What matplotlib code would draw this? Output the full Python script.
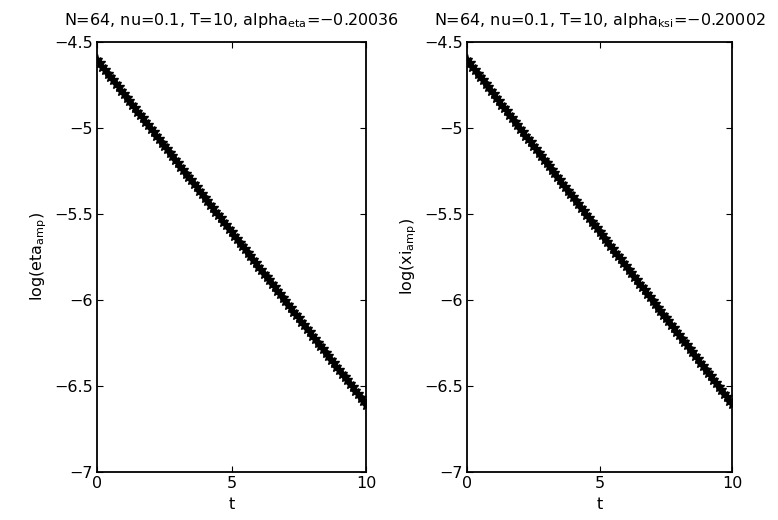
import matplotlib.pyplot as plt
from matplotlib.ticker import FuncFormatter

plt.rcParams['font.family'] = ['DejaVu Sans']
plt.rcParams['mathtext.default'] = 'regular'

# time samples (dt = 0.1)
t = [0.0, 0.1, 0.2, 0.3, 0.4, 0.5, 0.6, 0.7, 0.8, 0.9,
     1.0, 1.1, 1.2, 1.3, 1.4, 1.5, 1.6, 1.7, 1.8, 1.9,
     2.0, 2.1, 2.2, 2.3, 2.4, 2.5, 2.6, 2.7, 2.8, 2.9,
     3.0, 3.1, 3.2, 3.3, 3.4, 3.5, 3.6, 3.7, 3.8, 3.9,
     4.0, 4.1, 4.2, 4.3, 4.4, 4.5, 4.6, 4.7, 4.8, 4.9,
     5.0, 5.1, 5.2, 5.3, 5.4, 5.5, 5.6, 5.7, 5.8, 5.9,
     6.0, 6.1, 6.2, 6.3, 6.4, 6.5, 6.6, 6.7, 6.8, 6.9,
     7.0, 7.1, 7.2, 7.3, 7.4, 7.5, 7.6, 7.7, 7.8, 7.9,
     8.0, 8.1, 8.2, 8.3, 8.4, 8.5, 8.6, 8.7, 8.8, 8.9,
     9.0, 9.1, 9.2, 9.3, 9.4, 9.5, 9.6, 9.7, 9.8, 9.9,
     10.0]

log_eta = [-4.605, -4.625, -4.645, -4.665, -4.685, -4.705, -4.725, -4.745, -4.765, -4.785,
           -4.805, -4.825, -4.845, -4.866, -4.886, -4.906, -4.926, -4.946, -4.966, -4.986,
           -5.006, -5.026, -5.046, -5.066, -5.086, -5.106, -5.126, -5.146, -5.166, -5.186,
           -5.206, -5.226, -5.246, -5.266, -5.286, -5.306, -5.326, -5.346, -5.366, -5.386,
           -5.406, -5.426, -5.446, -5.467, -5.487, -5.507, -5.527, -5.547, -5.567, -5.587,
           -5.607, -5.627, -5.647, -5.667, -5.687, -5.707, -5.727, -5.747, -5.767, -5.787,
           -5.807, -5.827, -5.847, -5.867, -5.887, -5.907, -5.927, -5.947, -5.967, -5.987,
           -6.007, -6.028, -6.048, -6.068, -6.088, -6.108, -6.128, -6.148, -6.168, -6.188,
           -6.208, -6.228, -6.248, -6.268, -6.288, -6.308, -6.328, -6.348, -6.368, -6.388,
           -6.408, -6.428, -6.448, -6.468, -6.488, -6.508, -6.528, -6.548, -6.568, -6.588,
           -6.609]

log_xi = [-4.605, -4.625, -4.645, -4.665, -4.685, -4.705, -4.725, -4.745, -4.765, -4.785,
          -4.805, -4.825, -4.845, -4.865, -4.885, -4.905, -4.925, -4.945, -4.965, -4.985,
          -5.005, -5.025, -5.045, -5.065, -5.085, -5.105, -5.125, -5.145, -5.165, -5.185,
          -5.205, -5.225, -5.245, -5.265, -5.285, -5.305, -5.325, -5.345, -5.365, -5.385,
          -5.405, -5.425, -5.445, -5.465, -5.485, -5.505, -5.525, -5.545, -5.565, -5.585,
          -5.605, -5.625, -5.645, -5.665, -5.685, -5.705, -5.725, -5.745, -5.765, -5.785,
          -5.805, -5.825, -5.845, -5.865, -5.885, -5.905, -5.925, -5.945, -5.965, -5.985,
          -6.005, -6.025, -6.045, -6.065, -6.085, -6.105, -6.125, -6.145, -6.165, -6.185,
          -6.205, -6.225, -6.245, -6.265, -6.285, -6.305, -6.325, -6.345, -6.365, -6.385,
          -6.405, -6.425, -6.445, -6.465, -6.485, -6.505, -6.525, -6.545, -6.565, -6.585,
          -6.605]

titles = ['N=64, nu=0.1, T=10, alpha$_{eta}$=\u22120.20036',
          'N=64, nu=0.1, T=10, alpha$_{ksi}$=\u22120.20002']
ylabels = ['log(eta$_{amp}$)', 'log(xi$_{amp}$)']
xticks = [0, 5, 10]
yticks = [-7, -6.5, -6, -5.5, -5, -4.5]

fig = plt.figure(figsize=(7.78, 5.2), dpi=100)
ax1 = fig.add_axes([0.1247, 0.0923, 0.3458, 0.8275])
ax2 = fig.add_axes([0.6003, 0.0923, 0.3406, 0.8275])

fmt = FuncFormatter(lambda v, p: ('%g' % v).replace('-', '\u2212'))

fs = 11.5
for ax, y, title, ylabel in zip([ax1, ax2], [log_eta, log_xi], titles, ylabels):
    ax.plot(t, y, '-*', color='black', markersize=8, linewidth=1)
    ax.set_xlim(0, 10)
    ax.set_ylim(-7, -4.5)
    ax.set_xticks(xticks)
    ax.set_yticks(yticks)
    ax.yaxis.set_major_formatter(fmt)
    ax.tick_params(direction='in', top=True, right=True, labelsize=fs, length=4, pad=3)
    ax.set_xlabel('t', fontsize=fs, labelpad=4)
    ax.set_ylabel(ylabel, fontsize=fs, labelpad=4)
    ax.set_title(title, fontsize=fs, pad=12)
    for s in ax.spines.values():
        s.set_linewidth(1.3)

fig.savefig('out.png', dpi=100)
